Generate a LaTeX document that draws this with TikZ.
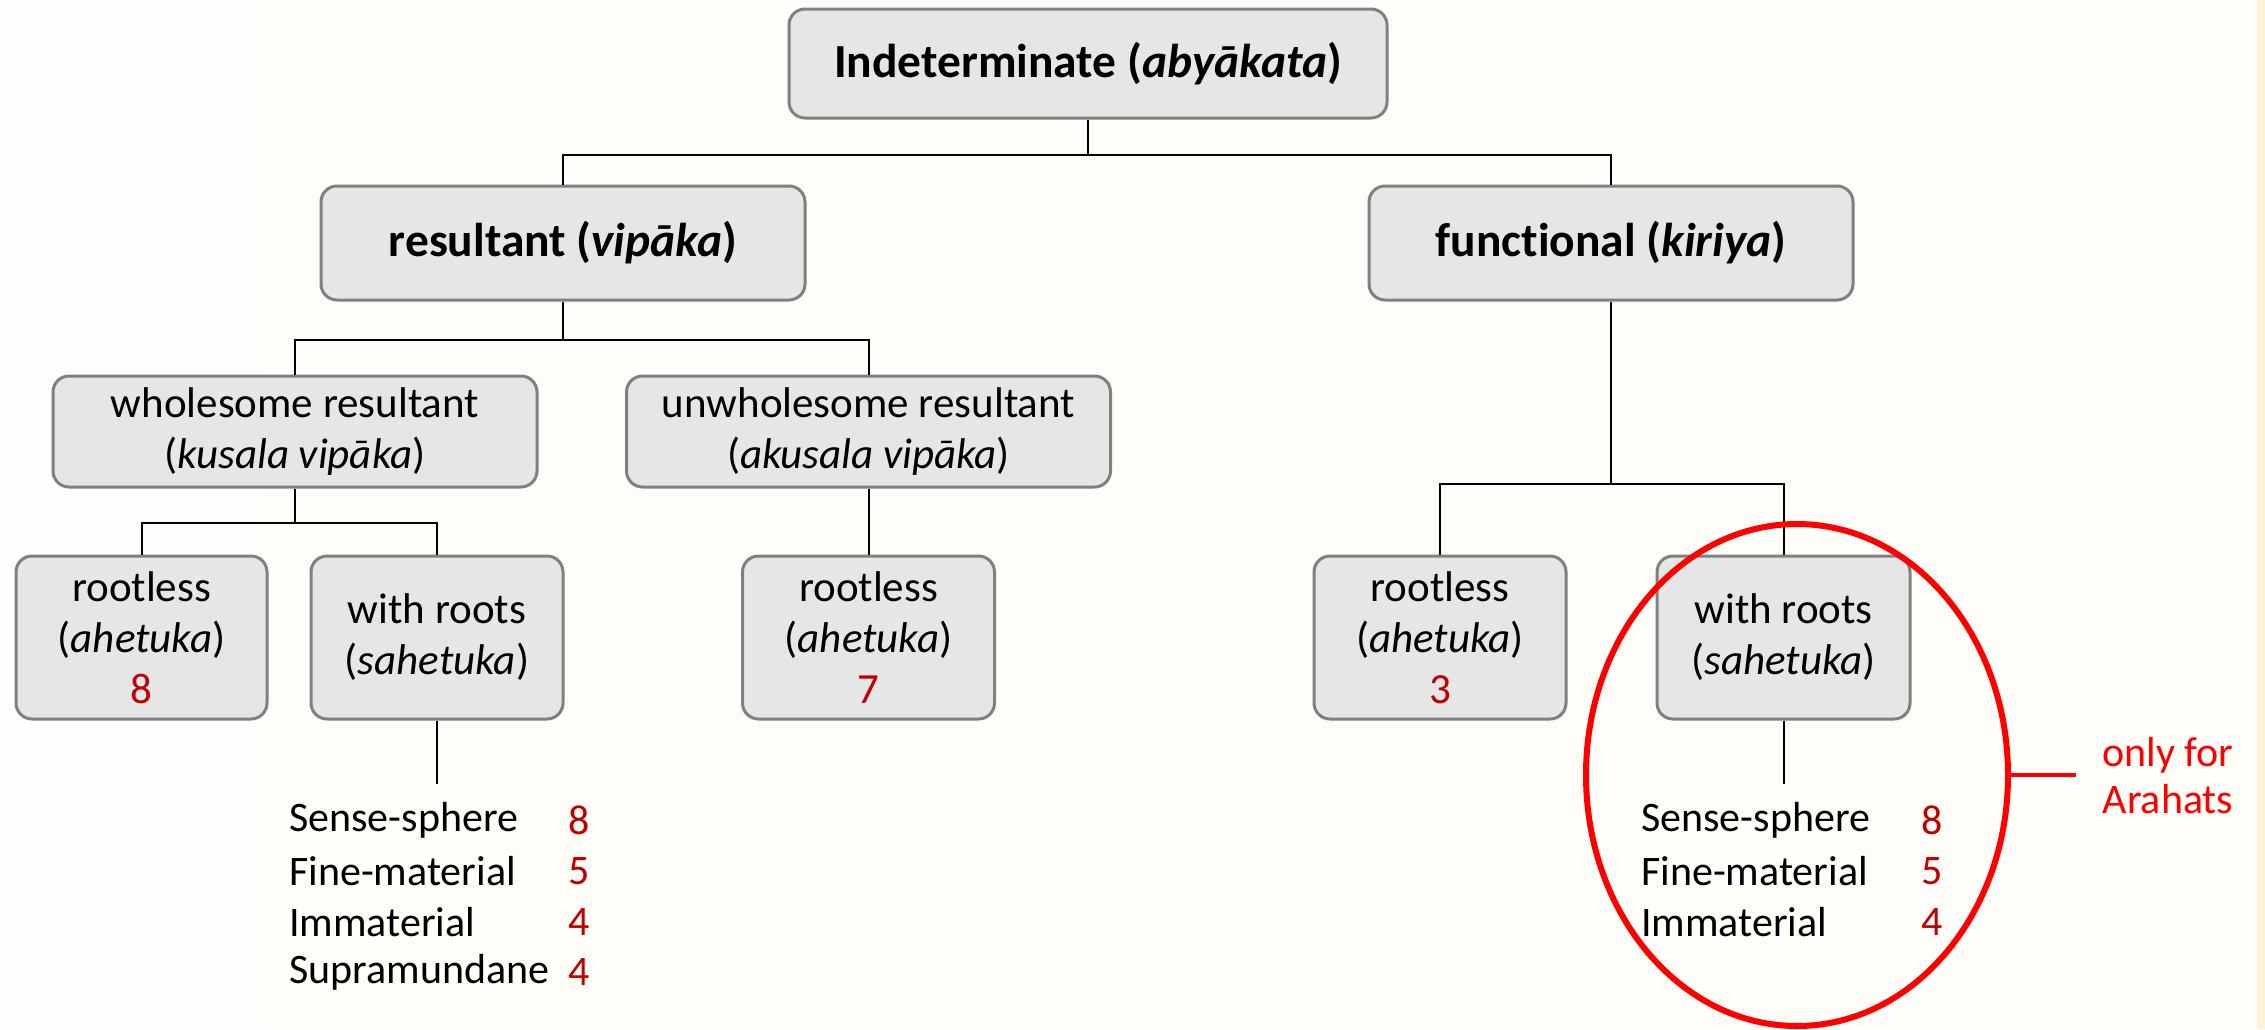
\documentclass[tikz,border=0pt]{standalone}
\usepackage{fontspec}
\usetikzlibrary{shapes.geometric}
\setmainfont{Carlito}[Ligatures=NoCommon]
\definecolor{boxfill}{HTML}{E6E6E6}
\definecolor{boxline}{HTML}{808080}
\definecolor{numred}{HTML}{C00000}
\definecolor{brightred}{HTML}{FF0000}
\definecolor{cream}{HTML}{FFFDF7}
\definecolor{paleleft}{HTML}{FEFEFE}
\definecolor{beige}{HTML}{FFF2D4}
\begin{document}
\begin{tikzpicture}[x=1pt,y=-1pt,
  cbox/.style={draw=boxline,fill=boxfill,line width=3pt,rounded corners=16pt,
    align=center,inner sep=0pt,font=\fontsize{43}{51}\selectfont},
  headbox/.style={cbox,font=\fontsize{47.5}{56}\selectfont\bfseries},
  conn/.style={draw=black,line width=2pt},
  listtxt/.style={anchor=west,inner sep=0pt,font=\fontsize{42}{51}\selectfont},
  numtxt/.style={anchor=center,inner sep=0pt,text=numred,font=\fontsize{42}{51}\selectfont}]
% background
\fill[paleleft] (0,0) rectangle (2265,1029);
\fill[cream] (262,0) rectangle (2257,1029);
\fill[beige] (2257,0) rectangle (2265,1029);
\useasboundingbox (0,0) rectangle (2265,1029);

% boxes
\node[headbox,minimum width=598pt,minimum height=109pt] (top) at (1088,63.5) {Indeterminate (\textit{aby\={a}kata})};
\node[headbox,minimum width=484pt,minimum height=114pt] (res) at (563,243) {resultant (\textit{vip\={a}ka})};
\node[headbox,minimum width=484pt,minimum height=114pt] (fun) at (1611,243) {functional (\textit{kiriya})};
\node[cbox,minimum width=484pt,minimum height=111pt] (whr) at (295,431.5) {wholesome resultant\\(\textit{kusala vip\={a}ka})};
\node[cbox,minimum width=484pt,minimum height=111pt] (uwr) at (868.5,431.5) {unwholesome resultant\\(\textit{akusala vip\={a}ka})};
\node[cbox,minimum width=251pt,minimum height=163pt] (rl1) at (141.5,637.5) {rootless\\(\textit{ahetuka})\\\textcolor{numred}{8}};
\node[cbox,minimum width=252pt,minimum height=163pt] (wr1) at (437,637.5) {with roots\\(\textit{sahetuka})};
\node[cbox,minimum width=252pt,minimum height=163pt] (rl2) at (868.5,637.5) {rootless\\(\textit{ahetuka})\\\textcolor{numred}{7}};
\node[cbox,minimum width=252pt,minimum height=163pt] (rl3) at (1440,637.5) {rootless\\(\textit{ahetuka})\\\textcolor{numred}{3}};
\node[cbox,minimum width=253pt,minimum height=163pt] (wr2) at (1783.5,637.5) {with roots\\(\textit{sahetuka})};

% junction coordinates
\coordinate (j0) at (1088,154.6);
\coordinate (j1) at (563,339.5);
\coordinate (j2) at (295,523);
\coordinate (j3) at (1611,484);
\coordinate (e1) at (437,784);
\coordinate (e2) at (1783.5,784);

% connectors
\draw[conn] (top.south) -- (j0);
\draw[conn] (res.north) |- (j0) -| (fun.north);
\draw[conn] (res.south) -- (j1);
\draw[conn] (whr.north) |- (j1) -| (uwr.north);
\draw[conn] (whr.south) -- (j2);
\draw[conn] (rl1.north) |- (j2) -| (wr1.north);
\draw[conn] (uwr.south) -- (rl2.north);
\draw[conn] (fun.south) -- (j3);
\draw[conn] (rl3.north) |- (j3) -| (wr2.north);
\draw[conn] (wr1.south) -- (e1);
\draw[conn] (wr2.south) -- (e2);

% lists
\node[listtxt] (l1a) at (289,820) {Sense-sphere};
\node[listtxt] (l1b) at (289,871) {Fine-material};
\node[listtxt] (l1c) at (289,922) {Immaterial};
\node[listtxt] (l1d) at (289,972) {Supramundane};
\node[numtxt] (n1a) at (579,820) {8};
\node[numtxt] (n1b) at (579,871) {5};
\node[numtxt] (n1c) at (579,922) {4};
\node[numtxt] (n1d) at (579,972) {4};

\node[listtxt] (l2a) at (1641,820) {Sense-sphere};
\node[listtxt] (l2b) at (1641,871) {Fine-material};
\node[listtxt] (l2c) at (1641,922) {Immaterial};
\node[numtxt] (n2a) at (1932,820) {8};
\node[numtxt] (n2b) at (1932,871) {5};
\node[numtxt] (n2c) at (1932,922) {4};

% ellipse and note
\node[draw=brightred,line width=6pt,ellipse,minimum width=422pt,minimum height=502pt,inner sep=0pt] (ell) at (1797,775) {};
\coordinate (noteend) at (2076,775);
\draw[brightred,line width=4pt] (ell.east) -- (noteend);
\node[align=center,text=brightred,inner sep=0pt,font=\fontsize{42}{47}\selectfont] (note) at (2168,776) {only for\\Arahats};
\end{tikzpicture}
\end{document}
